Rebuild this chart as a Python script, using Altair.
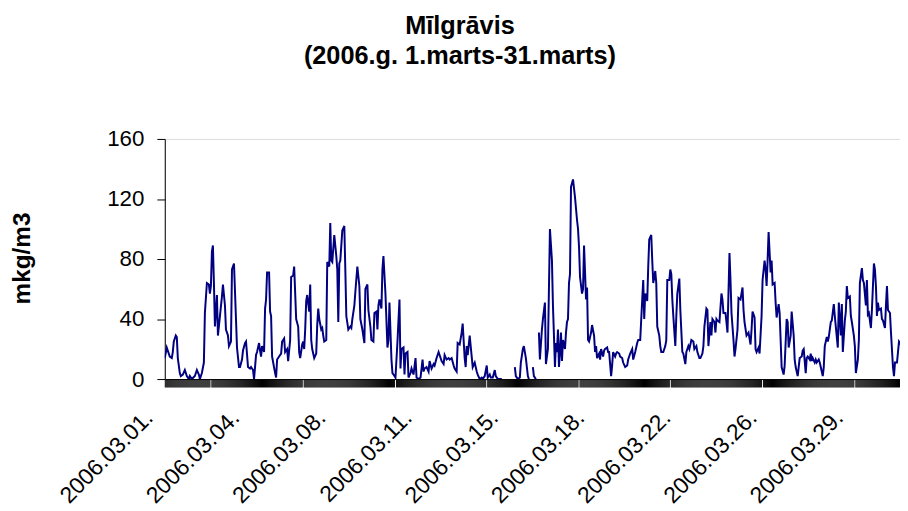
import altair as alt
import pandas as pd

# --- data (hour index from 2006-03-01 00:00, value in mkg/m3) ---
hours = [
    0, 2, 5, 7, 8, 9, 11, 12, 13, 15, 16, 18, 20, 22, 24, 25, 27, 30, 32, 34, 35, 37, 39, 40, 42, 44, 45, 46, 47, 48,
    49, 50, 52, 53, 55, 57, 58, 60, 61, 63, 64, 66, 67, 69, 71, 72, 74, 75, 77, 78, 80, 81, 83, 85, 86, 88, 89, 91,
    92, 94, 95, 96, 97, 99, 100, 101, 102, 104, 105, 106, 107, 110, 111, 112, 114, 116, 117, 119, 120, 122, 123, 125,
    126, 128, 129, 131, 133, 134, 135, 137, 138, 139, 140, 141, 142, 144, 145, 146, 147, 149, 151, 152, 153, 154, 156,
    157, 158, 159, 161, 162, 164, 165, 166, 167, 169, 171, 172, 173, 174, 175, 177, 179, 180, 181, 183, 185, 186, 187,
    189, 190, 192, 194, 195, 197, 199, 200, 202, 203, 205, 206, 208, 209, 211, 212, 213, 214, 216, 217, 218, 220, 222,
    223, 224, 226, 227, 228, 230, 232, 234, 235, 236, 238, 239, 240, 242, 243, 245, 246, 248, 250, 251, 253, 255, 257,
    258, 259, 261, 263, 264, 266, 268, 269, 271, 273, 274, 276, 278, 279, 281, 283, 284, 286, 288, 289, 291, 292, 294,
    296, 297, 299, 300, 301, 302, 304, 306, 307, 309, 311, 312, 314, 316, 317, 319, 321, 322, 324, 325, 327, 329, 330,
    332, 336,
    349, 350, 352, 354, 355, 357, 358, 360, 362, 363,
    367, 368, 370,
    373, 374, 376, 377, 379, 380, 382, 384, 386, 387, 388, 389, 390, 391, 392, 393, 394, 395, 396, 397, 399, 400, 401,
    402, 403, 404, 405, 407, 409, 411, 412, 413, 414, 416, 417, 418, 420, 421, 422, 423, 425, 426, 428, 429, 430, 431,
    433, 434, 435, 437, 438, 439, 441, 442, 443, 445, 446, 447, 449, 450, 451, 453, 454, 456, 457, 459, 461, 462, 464,
    466, 467, 469, 471, 472, 474, 476, 477, 478, 479, 481, 482, 483, 485, 486, 487, 489, 490, 491, 493, 494, 495, 497,
    499, 500, 501, 503, 504, 505, 506, 507, 509, 510, 511, 512, 513, 514, 516, 517, 519, 520, 522, 523, 525, 527, 528,
    530, 531, 533, 534, 536, 537, 538, 540, 541, 542, 544, 545, 546, 548, 549, 550, 551, 553, 555, 556, 557, 559, 560,
    561, 563, 564, 565, 567, 568, 569, 571, 572, 574, 576, 577, 578, 580, 581, 582, 584, 585, 586, 588, 589, 590, 592,
    593, 595, 596, 598, 599, 600, 601, 602, 604, 605, 606, 608, 609, 610, 612, 613, 614, 615, 617, 618, 620, 621, 622,
    624, 625, 627, 628, 629, 631, 632, 633, 635, 636, 637, 639, 640, 641, 643, 644, 645, 646, 648, 649, 650, 652, 653,
    654, 656, 657, 658, 660, 661, 662, 664, 665, 667, 668, 669, 671, 672, 674, 675, 676, 678, 679, 680, 681, 683, 684,
    685, 687, 688, 689, 691, 692, 693, 695, 696, 697, 699, 700, 701, 702, 704, 705, 707, 708, 709, 710, 711, 712, 714,
    715, 716, 718, 719, 720, 721, 723, 724, 726, 727, 728, 730, 731, 732, 733, 734,
]
values = [
    14, 21, 15, 14, 18, 25, 29, 28, 14, 4, 2, 3, 6, 2, 0, 2, 0, 2, 6, 3, 0, 4, 11, 44, 64, 63, 57, 62, 85, 89,
    64, 35, 56, 29, 42, 55, 63, 49, 33, 29, 22, 25, 73, 77, 40, 21, 8, 8, 13, 19, 24, 25, 8, 7, 8, 6, 0, 16,
    18, 24, 19, 15, 22, 18, 47, 53, 71, 71, 45, 42, 15, 4, 1, 13, 15, 17, 25, 27, 18, 20, 12, 26,
    68, 69, 75, 40, 35, 18, 14, 23, 25, 20, 33, 52, 56, 45, 63, 26, 20, 14, 17, 36, 47, 40, 33,
    34, 29, 25, 26, 78, 75, 104, 79, 78, 96, 82, 73, 38, 77, 79, 99, 102, 73, 42, 33, 35, 34, 40,
    49, 58, 75, 62, 40, 33, 24, 60, 63, 46, 35, 26, 25, 44, 45, 33, 49, 53, 47, 73, 82, 57, 21,
    26, 51, 13, 4, 3, 1, 25, 53, 7, 20, 21, 3, 17, 18, 1, 4, 7, 3, 14, 1, 0, 1, 13,
    5, 7, 8, 5, 12, 7, 10, 9, 14, 18, 16, 12, 10, 16, 13, 14, 13, 14, 9, 7, 5, 24, 23,
    31, 37, 14, 8, 22, 16, 29, 15, 8, 11, 5, 3, 0, 1, 0, 2, 9, 1, 3, 1, 1, 6, 2,
    0, 0,
    8, 2, 0, 1, 11, 20, 22, 14, 2, 0,
    8, 2, 0,
    31, 13, 33, 40, 51, 10, 20, 100, 79, 49, 29, 8, 24, 18, 33, 8, 18, 31, 12, 26, 20, 31, 38,
    40, 64, 70, 128, 133, 121, 106, 100, 88, 68, 57, 60, 89, 53, 61, 26, 25, 31, 36, 29, 18, 22, 14,
    17, 13, 20, 15, 19, 20, 21, 18, 18, 2, 9, 18, 15, 17, 18, 17, 15, 14, 11, 8, 9, 13, 17,
    20, 13, 18, 24, 26, 26, 53, 66, 40, 57, 52, 75, 93, 96, 79, 64, 72, 64, 35, 29, 22, 18, 18,
    22, 26, 66, 66, 73, 70, 53, 42, 22, 42, 57, 62, 67, 46, 18, 17, 10, 18, 22, 20, 26, 25, 20,
    22, 18, 14, 14, 17, 22, 35, 47, 46, 22, 38, 29, 40, 38, 31, 40, 39, 38, 57, 53, 44, 44, 38,
    31, 84, 66, 44, 26, 15, 20, 33, 54, 53, 61, 46, 38, 29, 30, 31, 23, 33, 45, 41, 20, 18, 21,
    17, 42, 66, 79, 73, 62, 79, 98, 71, 79, 63, 64, 51, 41, 50, 44, 26, 8, 3, 9, 40, 38, 21,
    29, 45, 29, 13, 8, 2, 8, 14, 15, 19, 20, 4, 14, 15, 13, 17, 12, 14, 11, 13, 11, 13, 11,
    8, 2, 8, 22, 28, 25, 28, 38, 39, 50, 42, 35, 21, 51, 29, 50, 18, 39, 45, 62, 54, 55, 42,
    38, 29, 22, 4, 13, 26, 64, 74, 66, 64, 49, 66, 43, 44, 34, 46, 77, 73, 62, 42, 51, 46, 47,
    40, 39, 34, 49, 62, 46, 44, 31, 8, 2, 11, 11, 18, 25, 24, 25,
]
# first hour of each continuous stretch of measurements (gaps in between)
segment_starts = [0, 349, 367, 373]

# category labels on the x axis (every 86th hour)
label_hours = [0, 86, 172, 258, 344, 430, 516, 602, 688]
label_texts = ["2006.03.01.", "2006.03.04.", "2006.03.08.", "2006.03.11.", "2006.03.15.",
               "2006.03.18.", "2006.03.22.", "2006.03.26.", "2006.03.29."]
y_ticks = [0, 40, 80, 120, 160]
visible_hours = 733

title_lines = ["Mīlgrāvis", "(2006.g. 1.marts-31.marts)"]
y_title = "mkg/m3"

df = pd.DataFrame({
    "h": hours,
    "v": values,
    "seg": [sum(h >= s for s in segment_starts) for h in hours],
})

label_expr = "''"
for hh, tt in reversed(list(zip(label_hours, label_texts))):
    label_expr = f"datum.value == {hh} ? '{tt}' : ({label_expr})"

FONT = "Liberation Sans"

x_axis = alt.Axis(
    values=list(range(0, visible_hours + 1)),
    labelExpr=label_expr,
    labelAngle=-45,
    labelAlign="right",
    labelBaseline="alphabetic",
    labelPadding=32,
    labelOffset=-11,
    labelFont=FONT,
    labelFontSize=23,
    labelColor="black",
    labelOverlap=False,
    labelFlush=False,
    labelBound=False,
    tickSize=8,
    tickColor="black",
    tickWidth=1,
    domainColor="black",
    domainWidth=1,
    grid=False,
    title=None,
)

y_axis = alt.Axis(
    values=y_ticks,
    labelFont=FONT,
    labelFontSize=22.5,
    labelColor="black",
    labelPadding=13,
    tickSize=8,
    tickColor="black",
    domainColor="black",
    grid=False,
    title=y_title,
    titleFont=FONT,
    titleFontSize=24.5,
    titleFontWeight="bold",
    titleColor="black",
    titleAngle=-90,
    titleX=-143,
    titleY=120,
    titleAlign="center",
    titleBaseline="middle",
)

chart = (
    alt.Chart(df)
    .mark_line(color="#000080", strokeWidth=2, clip=True)
    .encode(
        x=alt.X("h:Q", scale=alt.Scale(domain=[0, visible_hours], nice=False, zero=False), axis=x_axis),
        y=alt.Y("v:Q", scale=alt.Scale(domain=[0, 160], nice=False), axis=y_axis),
        detail="seg:N",
    )
    .properties(
        width=741,
        height=242,
        autosize=alt.AutoSizeParams(type="none"),
        padding={"left": 158, "top": 130, "right": 0, "bottom": 131},
        title=alt.TitleParams(
            text=title_lines,
            font=FONT,
            fontSize=25.5,
            fontWeight="bold",
            color="black",
            anchor="middle",
            dx=-73,
            lineHeight=30,
            baseline="alphabetic",
            offset=39,
        ),
    )
    .configure_view(stroke=None)
    .configure(background="white")
)

chart.save("out.html", embed_options={"renderer": "svg", "actions": False})
